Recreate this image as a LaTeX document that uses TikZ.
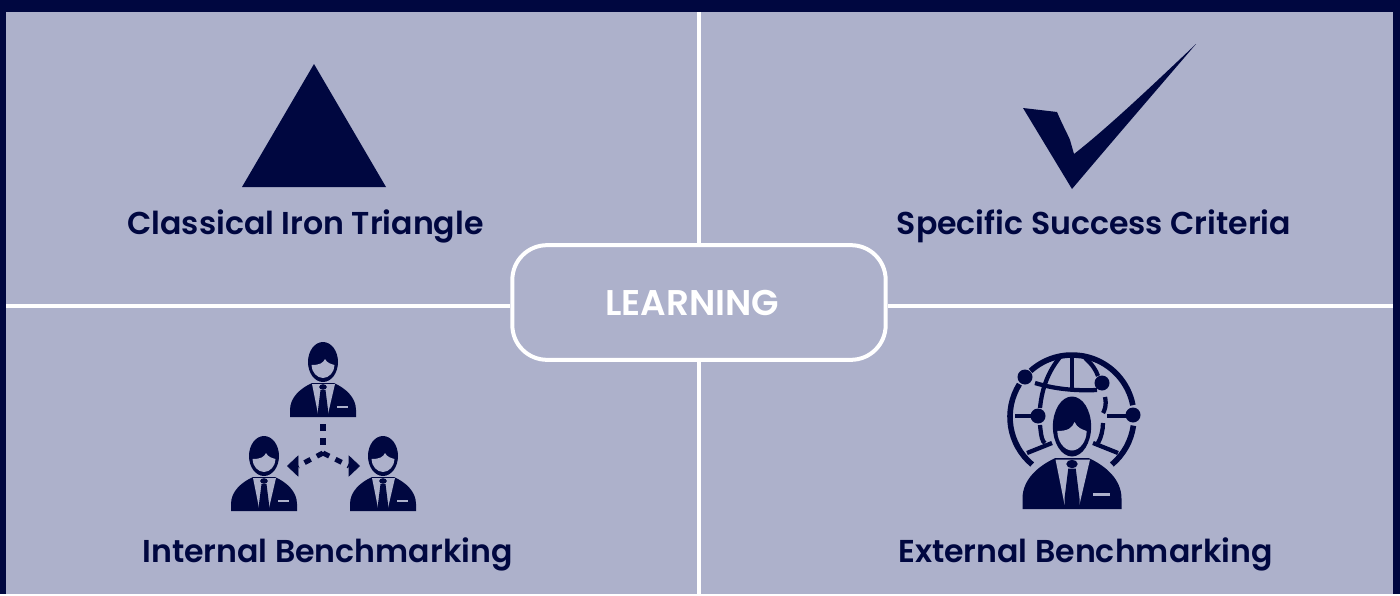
\documentclass[tikz,border=0pt]{standalone}
\usepackage{fontspec}
\setmainfont{Poppins}[BoldFont={Poppins SemiBold}]
\usetikzlibrary{arrows.meta, positioning, calc}
\definecolor{navy}{RGB}{0,7,64}
\definecolor{panel}{RGB}{173,177,203}
\tikzstyle{tag} = [text=navy, font=\fontsize{23.7}{28}\selectfont\bfseries, inner sep=0pt, anchor=base]
\tikzstyle{hubbox} = [rectangle, rounded corners=26pt,
minimum width=280pt, minimum height=86pt,
draw=white, line width=3pt, fill=panel,
text=white, font=\fontsize{26.8}{32}\selectfont\bfseries]
\tikzstyle{divider} = [white, line width=3pt]
\tikzstyle{dashlink} = [navy, line width=3.8pt, dash pattern=on 5.2pt off 5.2pt]
\tikzstyle{dashtip} = [navy, line width=0.5pt, -{Triangle[length=8.5pt, width=16pt]}]
\tikzstyle{wire} = [navy, line width=4.2pt]
\tikzstyle{thinwire} = [navy, line width=3.2pt]
\tikzset{
    pics/agent/.style={code={
        % head
        \begin{scope}[xscale=#1]
            \fill[navy] (0,0) ellipse [x radius=15, y radius=20];
            \fill[panel] (-11.5,3) .. controls (-3,3) and (0,1) .. (2,-3)
                .. controls (4,1) and (8,2) .. (11.5,3)
                .. controls (11.5,10) and (6,16) .. (0,16)
                .. controls (-6,16) and (-11.5,10) .. (-11.5,3) -- cycle;
        \end{scope}
        % suit
        \fill[navy] (-33,55) -- (-33,48) .. controls (-33,35) and (-22,26) .. (-11,21)
            -- (11,21) .. controls (22,26) and (33,35) .. (33,48) -- (33,55) -- cycle;
        \fill[panel] (-11,22) -- (12,22) -- (5,52) -- (-5,52) -- cycle;
        \fill[navy] (0,25) ellipse [x radius=3.8, y radius=2.8];
        \fill[navy] (-2.5,28) -- (2.5,28) -- (5,48) -- (5,53) -- (-5,53) -- (-5,48) -- cycle;
        \fill[panel] (14,44) rectangle (25,46);
    }}
}
\begin{document}
\begin{tikzpicture}[x=0.75pt, y=-0.75pt]
    \fill[navy] (0,0) rectangle (1400,594);
    \fill[panel] (6,12) rectangle (1393,594);

    \coordinate (topend) at (699,12);
    \coordinate (botend) at (699,594);
    \coordinate (leftend) at (6,305.5);
    \coordinate (rightend) at (1393,305.5);

    \node (hub) [hubbox] at (699,302.5) {\kern-10.5pt LEARNING};
    \draw [divider] (hub.north) -- (topend);
    \draw [divider] (hub.south) -- (botend);
    \draw [divider] (hub.west |- leftend) -- (leftend);
    \draw [divider] (hub.east |- rightend) -- (rightend);

    \node (irontag) [tag] at (305.5,234) {Classical Iron Triangle};
    \node (successtag) [tag] at (1094,234) {Specific Success Criteria};
    \node (interntag) [tag] at (327.5,562) {Internal Benchmarking};
    \node (externtag) [tag] at (1085.5,562) {External Benchmarking};

    % triangle and tick
    \fill[navy] (314,64) -- (386,187) -- (242,187) -- cycle;
    \fill[navy] (1023,108) -- (1057,112) .. controls (1063,126) and (1068,135) .. (1070,140)
        -- (1074,154) .. controls (1110,126) and (1160,78) .. (1196,44)
        .. controls (1160,86) and (1110,144) .. (1072,189) -- cycle;

    % three people
    \pic (boss) at (323,362) {agent=1};
    \pic (peerl) at (264,456) {agent=1};
    \pic (peerr) at (383,456) {agent=1};
    \coordinate (stem) at (323,424);
    \coordinate (fork) at (323,453);
    \coordinate (forkl) at (298,466);
    \coordinate (forkr) at (349,466);
    \coordinate (tipl) at (287,466);
    \coordinate (tipr) at (360,466);
    \draw [dashlink] (stem) -- (fork);
    \draw [dashlink] (fork) -- (forkl);
    \draw [dashlink] (fork) -- (forkr);
    \draw [dashtip] (forkl) -- (tipl);
    \draw [dashtip] (forkr) -- (tipr);

    % globe
    \coordinate (earth) at (1072,417);
    \draw [wire] ($(earth)+(228:62)$) arc [start angle=228, end angle=349, radius=62];
    \draw [wire] ($(earth)+(8:62)$) arc [start angle=8, end angle=50, radius=62];
    \draw [wire] ($(earth)+(130:62)$) arc [start angle=130, end angle=212, radius=62];
    \draw [thinwire] (1072,355) -- (1072,388);
    \draw [thinwire] (1035,383) .. controls (1055,389) and (1075,391) .. (1097,390);
    \draw [thinwire] (1060,357) .. controls (1048,372) and (1042,388) .. (1040,408);
    \draw [thinwire] (1040,425) .. controls (1041,435) and (1042,442) .. (1045,443);
    \draw [thinwire] (1085,358) .. controls (1092,364) and (1096,370) .. (1098,376);
    \draw [thinwire] (1105,397) .. controls (1107,405) and (1104,412) .. (1103,413);
    \draw [thinwire] (1103,423) .. controls (1103,430) and (1101,438) .. (1098,443);
    \draw [thinwire] (1015,416) -- (1032,416);
    \draw [thinwire] (1107,416) -- (1127,416);
    \draw [thinwire] (1027,453) -- (1052,443);
    \draw [thinwire] (1093,443) -- (1118,453);
    \fill[navy] (1025,377) circle [radius=7.5];
    \fill[navy] (1102,383) circle [radius=7.5];
    \fill[navy] (1038,416) circle [radius=7.5];
    \fill[navy] (1133,415) circle [radius=7.5];
    \pic (expert) at (1072,426.5) [scale=1.5] {agent=0.85};
\end{tikzpicture}
\end{document}
